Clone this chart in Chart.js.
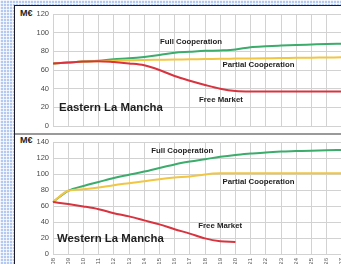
<!DOCTYPE html>
<html>
<head>
<meta charset="utf-8">
<script src="https://cdn.jsdelivr.net/npm/chart.js@4/dist/chart.umd.min.js"></script>
<style>
  html, body { margin: 0; padding: 0; }
  body {
    width: 341px; height: 264px; overflow: hidden; position: relative;
    background-color: #b3c9f2;
    background-image:
      linear-gradient(90deg, rgba(255,255,255,0.75) 1px, transparent 1px),
      linear-gradient(rgba(255,255,255,0.75) 1px, transparent 1px);
    background-size: 3px 3px;
    font-family: "Liberation Sans", Arial, sans-serif;
  }
  #title {
    position: absolute; left: 0; width: 380px; text-align: center; top: -15px;
    font: bold 16px "Liberation Sans", Arial, sans-serif; color: #2a2fd0; white-space: nowrap;
  }
  #panel { position: absolute; left: 14px; top: 5px; right: -5px; bottom: -5px;
    background: #fff; border-left: 1.5px solid #1b1b2e; border-top: 1.5px solid #1b1b2e; }
  #sep { position: absolute; left: 15px; right: 0; top: 133px; height: 1.5px; background: #9a9a9a; }
  .unit { position: absolute; left: 20px; font: bold 9px "Liberation Sans", Arial, sans-serif; color: #222; }
  .cw { position: absolute; left: 15px; width: 335px; }
</style>
</head>
<body>
<div id="panel"></div>
<div id="title">Social welfare</div>
<div id="sep"></div>
<div class="unit" style="top:8px">M€</div>
<div class="unit" style="top:135px">M€</div>
<div class="cw" style="top:6px;height:127px"><canvas id="east" width="335" height="127"></canvas></div>
<div class="cw" style="top:136px;height:150px"><canvas id="west" width="335" height="150"></canvas></div>
<script>
const years = ['2008','2009','2010','2011','2012','2013','2014','2015','2016','2017','2018','2019','2020','2021','2022','2023','2024','2025','2026','2027'];
const seriesNames = ['Free Market', 'Partial Cooperation', 'Full Cooperation'];

// Eastern La Mancha (M€)
const eastFree    = [67, 68, 69, 69.5, 68.5, 67, 65, 60, 53.5, 48.5, 44, 40, 37.5, 37, 37, 37, 37, 37, 37, 37];
const eastPartial = [67, 68, 69, 69.5, 70, 70.5, 70.8, 71, 71.2, 71.5, 71.7, 72, 72.2, 72.4, 72.6, 72.8, 73, 73.2, 73.4, 73.6];
const eastFull    = [67, 68, 69, 70, 71.5, 72.5, 74, 76, 78.5, 79.5, 80.5, 81, 82, 84.5, 85.5, 86.2, 86.8, 87.3, 87.8, 88.2];
const eastTicks = [0, 20, 40, 60, 80, 100, 120];

// Western La Mancha (M€)
const westFree    = [65, 62.5, 59.5, 56, 51, 47, 42, 37, 31, 25.5, 19.5, 16, 15, null, null, null, null, null, null, null];
const westPartial = [65, 79, 81, 83, 86, 88.5, 91, 93.5, 95.5, 97, 99.5, 100.8, 101, 101, 101, 101, 101, 101, 101, 101];
const westFull    = [65, 79, 85, 90, 95, 99, 103, 107.5, 112, 115.5, 118.5, 121.5, 123.8, 125.5, 127, 128, 128.6, 129.2, 129.7, 130];
const westTicks = [0, 20, 40, 60, 80, 100, 120, 140];

const colors = ['#d8343f', '#f1c644', '#3bac6c'];
const FONT = '"Liberation Sans", Arial, sans-serif';

// text annotations placed in data coordinates (x = category index, y = value)
const eastNotes = [
  {text: 'Full Cooperation', x: 9.08, y: 90.3, size: 7.8, align: 'center'},
  {text: 'Partial Cooperation', x: 13.52, y: 66, size: 7.8, align: 'center'},
  {text: 'Free Market', x: 11.05, y: 28.5, size: 7.8, align: 'center'},
  {text: 'Eastern La Mancha', x: 0.4, y: 19.3, size: 11.4, align: 'left'}
];
const westNotes = [
  {text: 'Full Cooperation', x: 8.5, y: 128.7, size: 7.8, align: 'center'},
  {text: 'Partial Cooperation', x: 13.52, y: 90.4, size: 7.8, align: 'center'},
  {text: 'Free Market', x: 11.0, y: 35, size: 7.8, align: 'center'},
  {text: 'Western La Mancha', x: 0.26, y: 18.8, size: 11.4, align: 'left'}
];

const notesPlugin = {
  id: 'notes',
  afterDatasetsDraw(chart, args, opts) {
    const ctx = chart.ctx, xs = chart.scales.x, ys = chart.scales.y;
    ctx.save();
    ctx.fillStyle = '#1e1e1e';
    ctx.textBaseline = 'middle';
    for (const n of opts.items || []) {
      ctx.font = 'bold ' + n.size + 'px ' + FONT;
      ctx.textAlign = n.align;
      ctx.fillText(n.text, xs.getPixelForValue(n.x), ys.getPixelForValue(n.y));
    }
    ctx.restore();
  }
};

function zeroPad(s) { s.paddingTop = 0; s.paddingBottom = 0; s.paddingLeft = 0; s.paddingRight = 0; }

function makeChart(id, free, partial, full, ticks, notes, showX, padTop, padBottom) {
  const data = [free, partial, full];
  return new Chart(document.getElementById(id), {
    type: 'line',
    data: {
      labels: years,
      datasets: data.map((d, i) => ({
        label: seriesNames[i], data: d, borderColor: colors[i], backgroundColor: colors[i],
        borderWidth: 2, pointRadius: 0, cubicInterpolationMode: 'monotone', fill: false, spanGaps: false
      }))
    },
    options: {
      responsive: false, animation: false, devicePixelRatio: 1,
      layout: { padding: { top: padTop, right: 8.2, bottom: padBottom, left: 0 } },
      plugins: { legend: { display: false }, tooltip: { enabled: false }, notes: { items: notes } },
      scales: {
        x: {
          offset: false,
          grid: { color: '#d2d2d2', lineWidth: 1, drawTicks: false },
          border: { color: '#d2d2d2' },
          ticks: { display: showX, minRotation: 90, maxRotation: 90, autoSkip: false, padding: 4,
                   font: { family: FONT, size: 6 }, color: '#555' },
          afterFit(s) { s.height = showX ? 26 : 0; zeroPad(s); }
        },
        y: {
          min: ticks[0], max: ticks[ticks.length - 1],
          afterBuildTicks(s) { s.ticks = ticks.map(v => ({ value: v })); },
          grid: { color: '#d2d2d2', lineWidth: 1, drawTicks: false },
          border: { color: '#d2d2d2' },
          ticks: { padding: 4, font: { family: FONT, size: 7.5 }, color: '#4a4a4a' },
          afterFit(s) { s.width = 38; zeroPad(s); }
        }
      }
    },
    plugins: [notesPlugin]
  });
}

makeChart('east', eastFree, eastPartial, eastFull, eastTicks, eastNotes, false, 8, 7);
makeChart('west', westFree, westPartial, westFull, westTicks, westNotes, true, 6, 6);
</script>
</body>
</html>
